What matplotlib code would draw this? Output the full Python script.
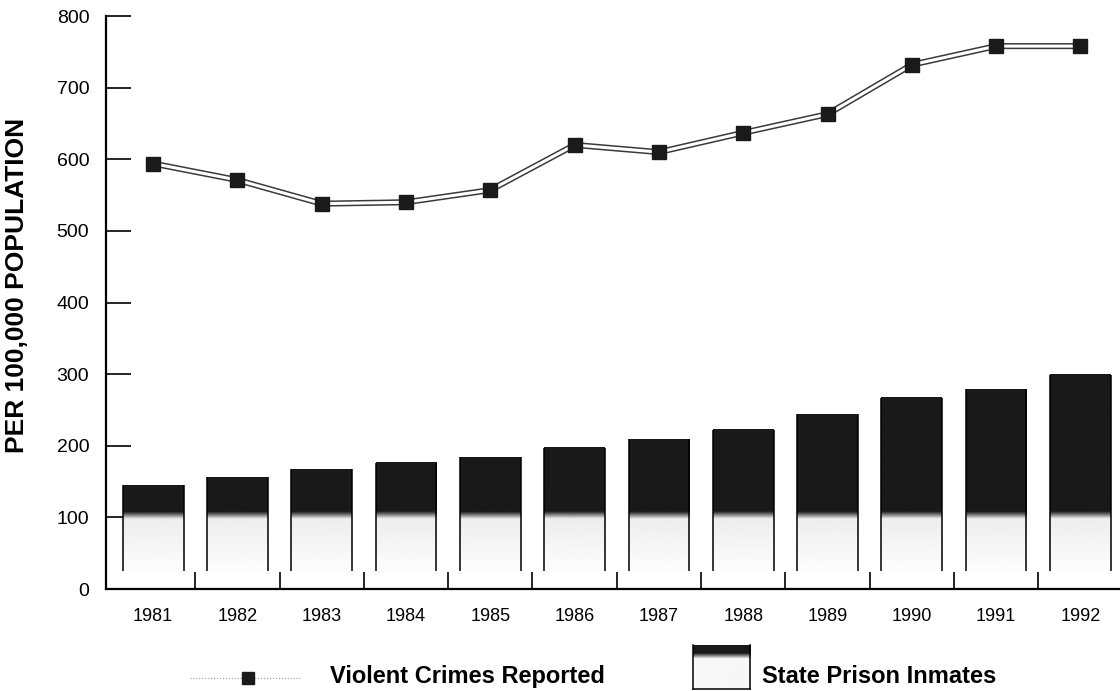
import numpy as np
import matplotlib.pyplot as plt
from matplotlib.lines import Line2D

plt.rcParams['font.family'] = ['Liberation Sans', 'DejaVu Sans']

years = ['1981', '1982', '1983', '1984', '1985', '1986',
         '1987', '1988', '1989', '1990', '1991', '1992']
violent_crimes = [594, 571, 538, 540, 557, 620, 610, 637, 663, 732, 758, 758]
prison_inmates = [145, 156, 167, 176, 184, 197, 209, 222, 244, 267, 279, 299]


def shade(vals):
    # dark above ~105, light stipple below, fading out near the floor
    out = np.where(vals > 108, 0.1, 0.0)
    mid = (vals >= 98) & (vals <= 108)
    out = np.where(mid, 0.1 + (108 - vals) / 10 * 0.82, out)
    low = vals < 98
    out = np.where(low, 0.93 + (98 - vals) / 70 * 0.06, out)
    out = np.where(vals < 25, 1.0, out)
    return out


fig = plt.figure(figsize=(11.2, 6.91), dpi=100)
ax = fig.add_axes([0.0946, 0.1476, 0.9054, 0.8292])

x = np.arange(len(years))
width = 0.72
for xi, top in zip(x, prison_inmates):
    ys = np.linspace(0, top, 300)
    img = shade(ys)[:, None]
    ax.imshow(img, cmap='gray', vmin=0, vmax=1, origin='lower', aspect='auto',
              extent=(xi - width / 2, xi + width / 2, 0, top), zorder=2,
              interpolation='bilinear')
    ax.vlines([xi - width / 2, xi + width / 2], 25, top, color='black',
              lw=1.1, zorder=3)

# double-rule line for violent crimes
ax.plot(x, violent_crimes, color='#3a3a3a', lw=4.4, zorder=4,
        solid_capstyle='butt')
ax.plot(x, violent_crimes, color='white', lw=2.2, zorder=5,
        solid_capstyle='butt')
ax.plot(x, violent_crimes, 's', color='#1a1a1a', ms=9.5, zorder=6)

ax.set_xlim(-0.56, 11.47)
ax.set_ylim(0, 800)
ax.set_yticks(range(0, 801, 100))
ax.set_xticks(x)
ax.set_xticklabels(years, fontsize=13)
ax.set_xticks(x[:-1] + 0.5, minor=True)
ax.tick_params(axis='x', which='major', length=0, pad=14)
ax.tick_params(axis='x', which='minor', direction='in', length=12, width=1.2)
ax.tick_params(axis='y', direction='in', length=18, width=1.2,
               labelsize=14, pad=12)
for s in ['top', 'right']:
    ax.spines[s].set_visible(False)
for s in ['left', 'bottom']:
    ax.spines[s].set_linewidth(1.6)
fig.text(17.5 / 1120, 0.587, 'PER 100,000 POPULATION', fontsize=19,
         fontweight='bold', rotation=90, ha='center', va='center')

# legend, drawn by hand below the plot
fig.add_artist(Line2D([190 / 1120, 300 / 1120], [0.019, 0.019], color='#999999',
                      lw=0.8, ls=':', transform=fig.transFigure))
fig.add_artist(Line2D([248 / 1120], [0.019], marker='s', ms=8, color='#1a1a1a',
                      ls='none', transform=fig.transFigure))
fig.text(330 / 1120, 0.021, 'Violent Crimes Reported', fontsize=17,
         fontweight='bold', va='center', ha='left')

lax = fig.add_axes([693 / 1120, 0.003, 57 / 1120, 0.064])
ys = np.linspace(0, 100, 200)
lg = np.where(ys > 80, 0.1, np.where(ys > 68, 0.1 + (80 - ys) / 12 * 0.85, 0.97))
lax.imshow(lg[:, None], cmap='gray', vmin=0, vmax=1, origin='lower',
           aspect='auto', extent=(0, 1, 0, 100))
lax.set_xticks([])
lax.set_yticks([])
lax.spines['top'].set_visible(False)
for s in ['left', 'right', 'bottom']:
    lax.spines[s].set_linewidth(1.1)
fig.text(762 / 1120, 0.021, 'State Prison Inmates', fontsize=17,
         fontweight='bold', va='center', ha='left')

fig.savefig('out.png', dpi=100)
